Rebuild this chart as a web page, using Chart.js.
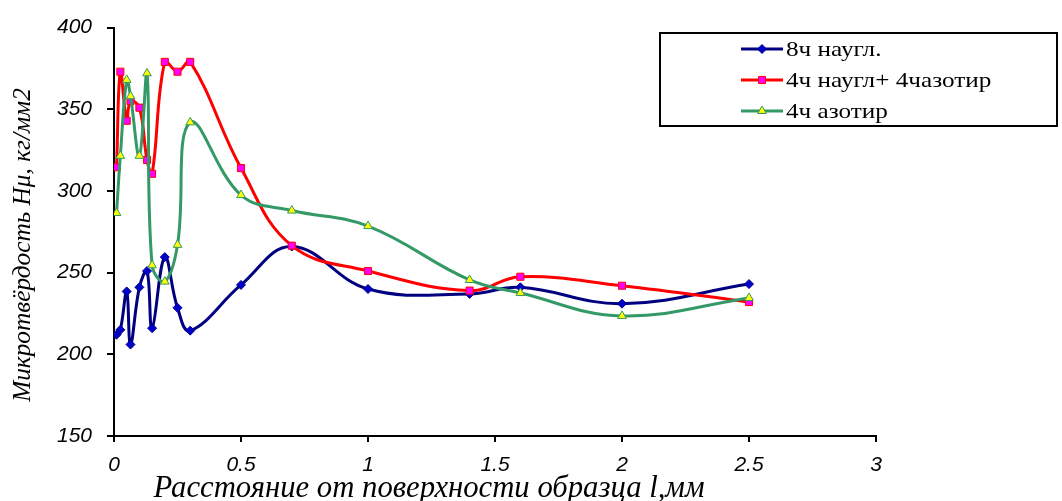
<!DOCTYPE html>
<html>
<head>
<meta charset="utf-8">
<script src="https://cdn.jsdelivr.net/npm/chart.js@4.4.1/dist/chart.umd.min.js"></script>
<style>
  html, body { margin: 0; background: #fff; }
  #wrap { width: 1062px; height: 501px; position: relative; }
</style>
</head>
<body>
<div id="wrap"><canvas id="chart"></canvas></div>
<script>
// расстояние от поверхности, мм
const depth = [0.01, 0.025, 0.05, 0.065, 0.1, 0.13, 0.15, 0.2, 0.25, 0.3, 0.5, 0.7, 1.0, 1.4, 1.6, 2.0, 2.5];
// микротвёрдость по сериям
const carb8 = [212, 215, 238.5, 206, 241, 251, 216, 259.5, 228.5, 214.5, 242.5, 266, 240, 237, 241, 231, 243];
const carb4nitr4 = [314.5, 373, 343, 355, 351, 319, 310.5, 379, 373, 379, 314, 266.5, 251, 239, 247.5, 242, 232];
const nitr4 = [286.5, 321.5, 368, 358, 321.5, 372, 254.5, 244.5, 267, 342, 297.5, 288, 278.5, 245.5, 237.5, 223.5, 234.5];

const seriesNames = ["8ч наугл.", "4ч наугл+ 4чазотир", "4ч азотир"];
const xTitle = "Расстояние от поверхности образца l,мм";
const yTitle = "Микротвёрдость Hμ, кг/мм2";

const toPoints = (ys) => depth.map((x, i) => ({ x: x, y: ys[i] }));

// fit a font size so the text spans the given width
function fitFont(ctx, text, style, family, target) {
  ctx.font = `${style} 20px ${family}`;
  const w = ctx.measureText(text).width;
  return Math.round(20 * target / w * 10) / 10;
}

const extras = {
  id: "extras",
  afterDraw(chart) {
    const ctx = chart.ctx;
    ctx.save();
    // legend box
    ctx.strokeStyle = "#000";
    ctx.lineWidth = 2;
    ctx.strokeRect(660, 33, 397, 93);
    chart.data.datasets.forEach((ds, i) => {
      const y = 49 + i * 31;
      ctx.strokeStyle = ds.borderColor;
      ctx.lineWidth = 3;
      ctx.beginPath();
      ctx.moveTo(741, y);
      ctx.lineTo(783, y);
      ctx.stroke();
      ctx.fillStyle = ds.pointBackgroundColor;
      ctx.strokeStyle = ds.pointBorderColor;
      ctx.lineWidth = 1;
      Chart.helpers.drawPoint(ctx, { pointStyle: ds.pointStyle, radius: ds.pointRadius, borderWidth: 1, rotation: 0 }, 762, y);
      // legend text is a bit stretched sideways in the original
      ctx.save();
      ctx.translate(786, y + 1);
      ctx.scale(1.2, 1);
      ctx.fillStyle = "#000";
      ctx.font = '21px "Liberation Serif"';
      ctx.textBaseline = "middle";
      ctx.textAlign = "left";
      ctx.fillText(ds.label, 0, 0);
      ctx.restore();
    });

    // axis titles
    ctx.fillStyle = "#000";
    ctx.textAlign = "center";
    ctx.textBaseline = "middle";
    let fs = fitFont(ctx, xTitle, "italic", '"Liberation Serif"', 552);
    ctx.font = `italic ${fs}px "Liberation Serif"`;
    ctx.fillText(xTitle, 429, 489);

    fs = fitFont(ctx, yTitle, "italic", '"Liberation Serif"', 314);
    ctx.font = `italic ${fs}px "Liberation Serif"`;
    ctx.translate(23, 245);
    ctx.rotate(-Math.PI / 2);
    ctx.fillText(yTitle, 0, 0);
    ctx.restore();
  }
};

const ctx = document.getElementById("chart").getContext("2d");
new Chart(ctx, {
  type: "line",
  data: {
    datasets: [
      {
        label: seriesNames[0],
        data: toPoints(carb8),
        borderColor: "#000080",
        borderWidth: 3,
        pointStyle: "rectRot",
        pointRadius: 4.5,
        pointBackgroundColor: "#0000CC",
        pointBorderColor: "#000080",
        pointBorderWidth: 1,
        tension: 0.4,
        order: 3,
      },
      {
        label: seriesNames[1],
        data: toPoints(carb4nitr4),
        borderColor: "#FF0000",
        borderWidth: 3,
        pointStyle: "rect",
        pointRadius: 5,
        pointBackgroundColor: "#FF00FF",
        pointBorderColor: "#FF0000",
        pointBorderWidth: 1,
        tension: 0.4,
        order: 2,
      },
      {
        label: seriesNames[2],
        data: toPoints(nitr4),
        borderColor: "#339966",
        borderWidth: 3,
        pointStyle: "triangle",
        pointRadius: 5,
        pointBackgroundColor: "#FFFF00",
        pointBorderColor: "#339966",
        pointBorderWidth: 1,
        tension: 0.4,
        order: 1,
      },
    ],
  },
  options: {
    responsive: true,
    maintainAspectRatio: false,
    animation: false,
    layout: { padding: { left: 0, top: 24, right: 186, bottom: 0 } },
    scales: {
      x: {
        type: "linear",
        min: 0,
        max: 3,
        afterFit: (scale) => { scale.height = 65; },
        border: { display: true, color: "#000", width: 2 },
        grid: { drawOnChartArea: false, drawTicks: true, tickLength: 6, color: "#000", lineWidth: 2 },
        ticks: {
          stepSize: 0.5,
          padding: 11,
          color: "#000",
          font: { family: '"Liberation Sans"', style: "italic", size: 21 },
          callback: (v) => String(v),
        },
      },
      y: {
        min: 150,
        max: 400,
        afterFit: (scale) => { scale.width = 114; },
        border: { display: true, color: "#000", width: 2 },
        grid: { drawOnChartArea: false, drawTicks: true, tickLength: 7, color: "#000", lineWidth: 2 },
        ticks: {
          stepSize: 50,
          padding: 15,
          color: "#000",
          font: { family: '"Liberation Sans"', style: "italic", size: 21 },
        },
      },
    },
    plugins: {
      legend: { display: false },
      tooltip: { enabled: false },
    },
  },
  plugins: [extras],
});
</script>
</body>
</html>
